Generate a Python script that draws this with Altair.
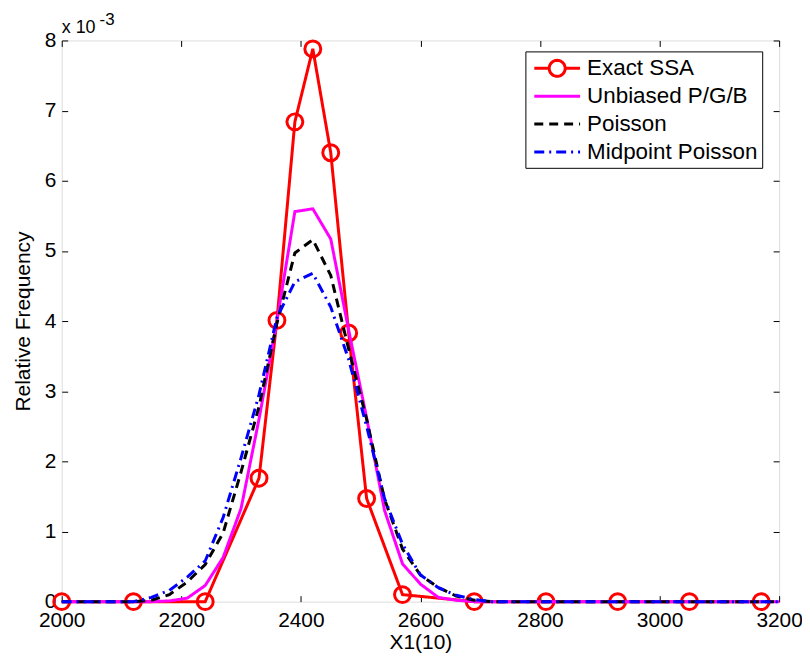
import math
import altair as alt
import pandas as pd

# ---------------- data (relative frequency, in units of 1e-3) ----------------
series_names = ["Exact SSA", "Unbiased P/G/B", "Poisson", "Midpoint Poisson"]
series_colors = ["#ff0000", "#ff00ff", "#000000", "#0000ff"]
series_dashes = [[1, 0], [1, 0], [9, 6], [10, 5, 2, 5]]

ssa_x = [2000, 2120, 2240, 2330, 2360, 2390, 2420, 2450, 2480, 2510, 2570, 2690, 2810, 2930, 3050, 3170]
ssa_y = [0, 0, 0, 1.76, 4.01, 6.84, 7.88, 6.40, 3.83, 1.47, 0.10, 0, 0, 0, 0, 0]

grid_x = [2000, 2120, 2150, 2180, 2210, 2240, 2270, 2300, 2330, 2360, 2390, 2420, 2450,
          2480, 2510, 2540, 2570, 2600, 2630, 2660, 2690, 2720, 3200]
pgb_y = [0, 0, 0, 0.01, 0.05, 0.23, 0.63, 1.33, 2.60, 4.00, 5.56, 5.60, 5.17,
         3.87, 2.62, 1.30, 0.54, 0.25, 0.06, 0.02, 0, 0, 0]
poisson_y = [0, 0, 0.02, 0.10, 0.28, 0.53, 0.98, 1.85, 2.78, 3.97, 4.97, 5.16, 4.65,
             3.60, 2.60, 1.46, 0.75, 0.38, 0.20, 0.08, 0.02, 0, 0]
midpoint_y = [0, 0, 0.06, 0.16, 0.35, 0.58, 1.20, 2.05, 2.95, 4.05, 4.56, 4.68, 4.20,
              3.45, 2.50, 1.47, 0.82, 0.38, 0.20, 0.09, 0.03, 0, 0]

x_ticks = [2000, 2200, 2400, 2600, 2800, 3000, 3200]
y_ticks = [0, 1, 2, 3, 4, 5, 6, 7, 8]
exp_base = "x 10"
exp_power = "-3"

rows = []
for x, y in zip(ssa_x, ssa_y):
    rows.append({"x": x, "y": y, "series": series_names[0]})
for name, ys in zip(series_names[1:], [pgb_y, poisson_y, midpoint_y]):
    for x, y in zip(grid_x, ys):
        rows.append({"x": x, "y": y, "series": name})
df = pd.DataFrame(rows)

FONT = "Liberation Sans"

# legend symbols (custom paths, units of sqrt(symbolSize)/2 = 11.5 px)
L0, L1, CC, R = -0.70, 3.30, 1.30, 0.7
poly = "".join(
    ("M" if i == 0 else "L") + f"{CC + R * math.cos(2 * math.pi * i / 28):.3f},{R * math.sin(2 * math.pi * i / 28):.3f}"
    for i in range(29)
)
ssa_sym = f"M{L0},0L{CC - R},0M{CC + R},0L{L1},0" + poly
line_sym = f"M{L0},0L{L1},0"

legend = alt.Legend(
    title=None, orient="none", legendX=466, legendY=11, direction="vertical",
    labelFont=FONT, labelFontSize=22.5, labelColor="black", labelLimit=400,
    symbolSize=529, symbolStrokeWidth=3, symbolFillColor="transparent", symbolOpacity=1,
    strokeColor="black", fillColor="white", padding=4, rowPadding=-1, gridAlign="all",
    labelOffset=32,
)

x_scale = alt.Scale(domain=[2000, 3200], nice=False, zero=False)
y_scale = alt.Scale(domain=[0, 8], nice=False)

bottom_axis = alt.Axis(
    values=x_ticks, format="d", grid=False, domain=False, ticks=True, tickSize=6, offset=-6,
    tickColor="black", labelFont=FONT, labelFontSize=21, labelColor="black", labelPadding=8,
    title="X1(10)", titleFont=FONT, titleFontSize=21, titleFontWeight="normal",
    titleColor="black", titlePadding=1, labelFlush=False,
)
left_axis = alt.Axis(
    values=y_ticks, format="d", grid=False, domain=False, ticks=True, tickSize=6, offset=-6,
    tickColor="black", labelFont=FONT, labelFontSize=21, labelColor="black", labelPadding=6,
    title="Relative Frequency", titleFont=FONT, titleFontSize=21, titleFontWeight="normal",
    titleColor="black", titlePadding=11, labelFlush=False,
)
top_axis = alt.Axis(orient="top", values=x_ticks, grid=False, domain=False, labels=False,
                    ticks=True, tickSize=6, offset=-6, tickColor="black", title=None)
right_axis = alt.Axis(orient="right", values=y_ticks, grid=False, domain=False, labels=False,
                      ticks=True, tickSize=6, offset=-6, tickColor="black", title=None)

x_enc = alt.X("x:Q", scale=x_scale, axis=bottom_axis)
y_enc = alt.Y("y:Q", scale=y_scale, axis=left_axis)
color_enc = alt.Color("series:N", scale=alt.Scale(domain=series_names, range=series_colors), legend=legend)
dash_enc = alt.StrokeDash("series:N", scale=alt.Scale(domain=series_names, range=series_dashes), legend=legend)
shape_enc = alt.Shape("series:N", scale=alt.Scale(domain=series_names,
                                                  range=[ssa_sym, line_sym, line_sym, line_sym]), legend=legend)

base = alt.Chart(df)


def line_layer(name):
    return base.transform_filter(alt.datum.series == name).mark_line(strokeWidth=3).encode(
        x=x_enc, y=y_enc, color=color_enc, strokeDash=dash_enc)


ssa_line = line_layer(series_names[0])
ssa_pts = base.transform_filter(alt.datum.series == series_names[0]).mark_point(
    shape="circle", filled=False, size=256, strokeWidth=3, color="#ff0000", opacity=1
).encode(x=x_enc, y=y_enc)
legend_shapes = base.transform_filter("false").mark_point(filled=False).encode(
    x=x_enc, y=y_enc, color=color_enc, shape=shape_enc)

inner = alt.layer(
    ssa_line, ssa_pts,
    line_layer(series_names[1]), line_layer(series_names[2]), line_layer(series_names[3]),
    legend_shapes,
)

tick_layer = base.transform_filter("false").mark_point().encode(
    x=alt.X("x:Q", scale=x_scale, axis=top_axis),
    y=alt.Y("y:Q", scale=y_scale, axis=right_axis),
)

ann_df = pd.DataFrame({"base": [exp_base], "power": [exp_power]})
ann_base = alt.Chart(ann_df).mark_text(font=FONT, fontSize=18, align="left", baseline="alphabetic",
                                       color="black").encode(text="base:N", x=alt.value(0), y=alt.value(-7))
ann_pow = alt.Chart(ann_df).mark_text(font=FONT, fontSize=17, align="left", baseline="alphabetic",
                                      color="black").encode(text="power:N", x=alt.value(38), y=alt.value(-16))

chart = alt.layer(inner, tick_layer, ann_base, ann_pow).resolve_axis(
    x="independent", y="independent"
).properties(
    width=721, height=564,
    autosize=alt.AutoSizeParams(type="none"),
    padding={"left": 54, "top": 31, "right": 23, "bottom": 50},
).configure_view(stroke="black", strokeWidth=1).configure(background="white")

chart.save("out.html", embed_options={"renderer": "svg", "actions": False})
